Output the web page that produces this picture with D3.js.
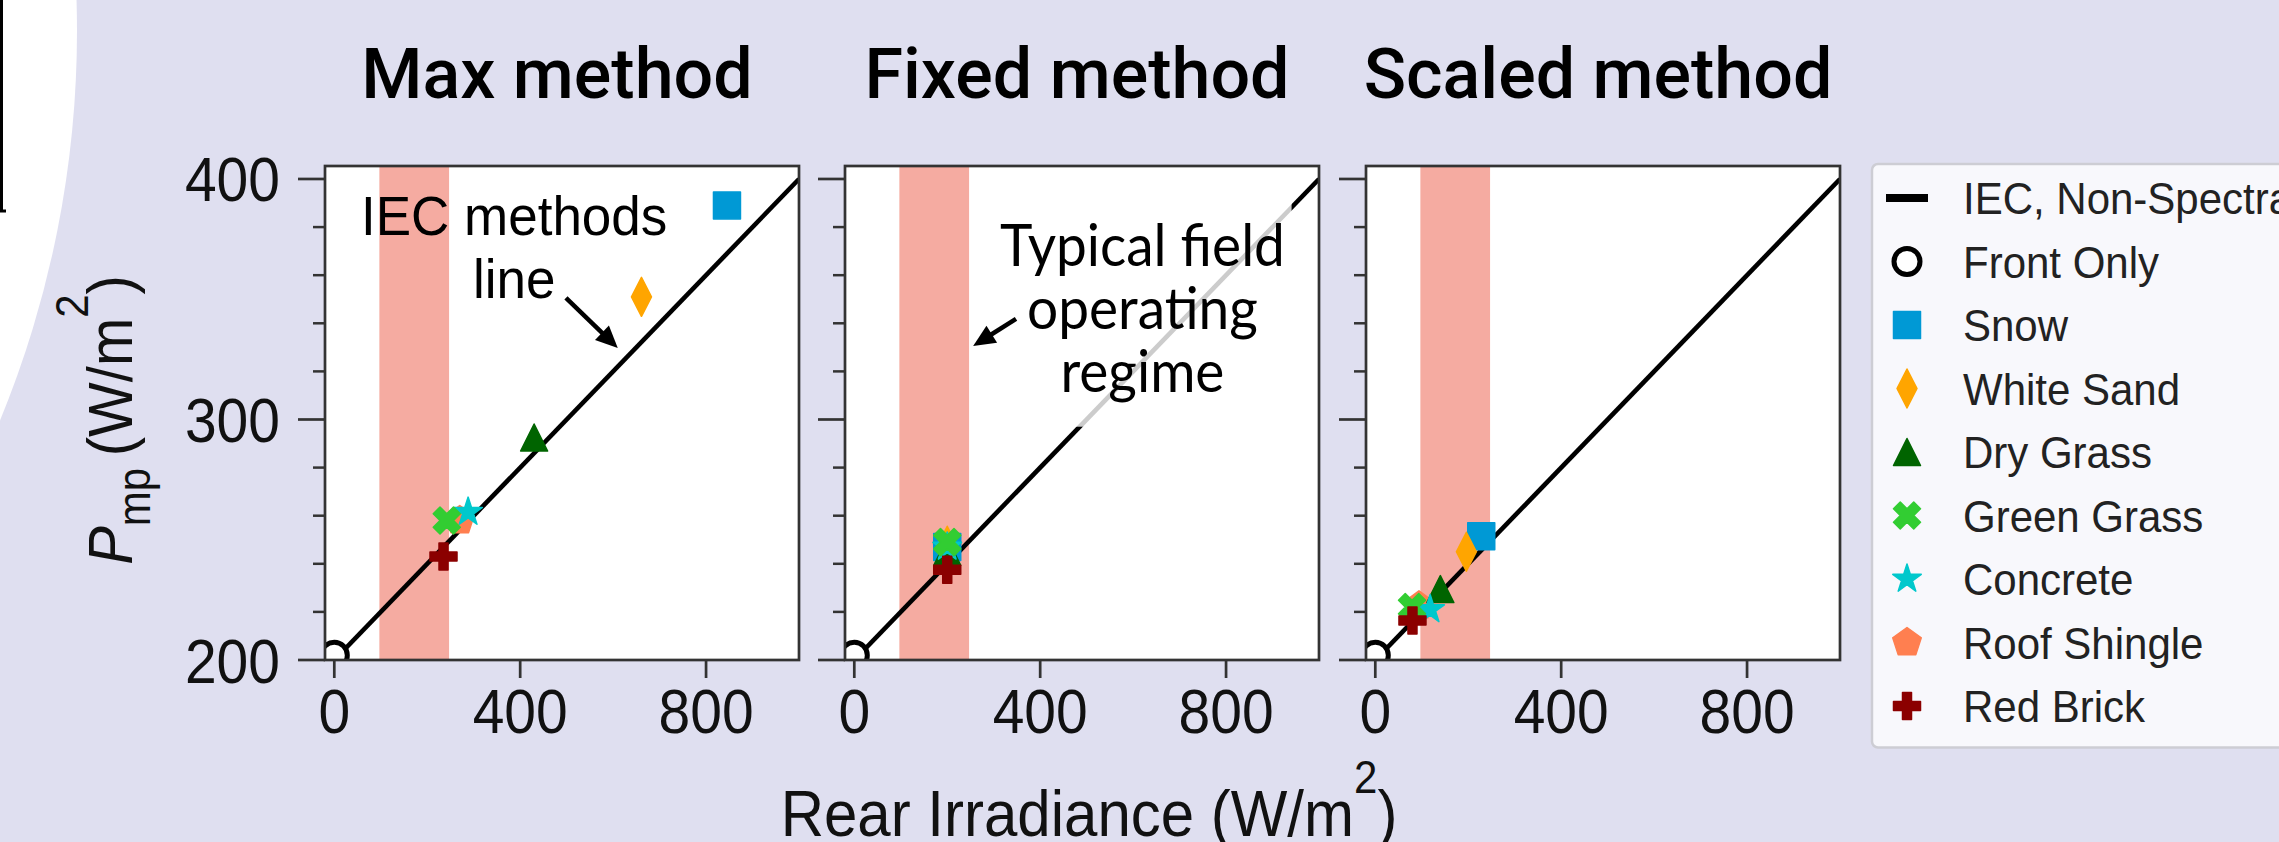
<!DOCTYPE html>
<html><head><meta charset="utf-8">
<script src="https://cdn.jsdelivr.net/npm/d3@7"></script>
<style>html,body{margin:0;padding:0;background:#dfdff0;overflow:hidden}</style>
</head><body><div id="chart"></div>
<script>
// ---------------- data ----------------
const categories = ["Front Only","Snow","White Sand","Dry Grass","Green Grass","Concrete","Roof Shingle","Red Brick"];
const markerTypes = ["circle","square","thinDiamond","triangle","xFilled","star","pentagon","plusFilled"];
const colors = ["#ffffff","#0099d5","#ffa500","#006400","#32cd32","#00c8cc","#ff7f50","#8b0000"];
const panelTitles = ["Max method","Fixed method","Scaled method"];
const maxX    = [0, 845, 661, 430, 242, 288, 270, 235];
const maxY    = [202, 389, 351, 292.5, 258, 261.5, 258, 243];
const fixedX  = [0, 200, 200, 200, 200, 200, 200, 200];
const fixedY  = [202, 247, 247.5, 245, 249, 247, 247, 237.5];
const scaledX = [0, 228, 196, 140, 79, 118, 94, 80];
const scaledY = [202, 251.5, 245, 229.5, 222, 221, 222.5, 216.4];
const iecLineX = [0, 1000];
const iecLineY = [200, 400];
const bandRange = [97, 247];
const xTicks = [0, 400, 800];
const yTicks = [200, 300, 400];
const yMinorTicks = [220, 240, 260, 280, 320, 340, 360, 380];
const xDomain = [-20, 1000];
const yDomain = [200, 405.4];
const legendLabels = ["IEC, Non-Spectral"].concat(categories);
const drawOrder = [0, 6, 1, 2, 3, 5, 4, 7];
const panelData = [[maxX, maxY],[fixedX, fixedY],[scaledX, scaledY]];

// ---------------- layout ----------------
const W = 2279, H = 842;
const panelLeft = [325, 845, 1366];
const panelW = 474, panelTop = 166, panelH = 494;
const FONT = "'Liberation Sans', Arial, Helvetica, sans-serif";
const INK = "#333333";

const svg = d3.select('#chart').append('svg').attr('width', W).attr('height', H)
  .style('display','block');

svg.append('rect').attr('width', W).attr('height', H).attr('fill', '#dfdff0');
// decorative slide background
svg.append('circle').attr('cx', -946).attr('cy', 31).attr('r', 1023).attr('fill', '#ffffff');
svg.append('path').attr('d', 'M1.5,0 L1.5,211 M0,211 L6,211').attr('stroke', '#000').attr('stroke-width', 3).attr('fill','none');

function markerPath(type) {
  const p = d3.path();
  const poly = (pts, s) => { pts.forEach((q,i)=> i ? p.lineTo(q[0]*s, q[1]*s) : p.moveTo(q[0]*s, q[1]*s)); p.closePath(); };
  switch (type) {
    case 'circle': p.arc(0, 0, 13, 0, 2*Math.PI); p.closePath(); break;
    case 'square': p.rect(-13.5, -13.5, 27, 27); break;
    case 'thinDiamond': poly([[0,-19.5],[10,0],[0,19.5],[-10,0]], 1); break;
    case 'triangle': poly([[0,-13.5],[13.5,13.5],[-13.5,13.5]], 1); break;
    case 'xFilled': poly([[-1,-2],[0,-1],[1,-2],[2,-1],[1,0],[2,1],[1,2],[0,1],[-1,2],[-2,1],[-1,0],[-2,-1]], 27/4); break;
    case 'plusFilled': poly([[-1,-3],[-1,-1],[-3,-1],[-3,1],[-1,1],[-1,3],[1,3],[1,1],[3,1],[3,-1],[1,-1],[1,-3]], 27/6); break;
    case 'star': {
      const pts = [];
      for (let i = 0; i < 10; i++) {
        const r = i % 2 === 0 ? 15 : 15*0.381966;
        const a = -Math.PI/2 + i*Math.PI/5;
        pts.push([r*Math.cos(a), r*Math.sin(a)]);
      }
      poly(pts, 1); break;
    }
    case 'pentagon': {
      const pts = [];
      for (let i = 0; i < 5; i++) { const a = -Math.PI/2 + i*2*Math.PI/5; pts.push([15*Math.cos(a), 15*Math.sin(a)]); }
      poly(pts, 1); break;
    }
  }
  return p.toString();
}
function drawMarker(g, i, x, y) {
  const t = markerTypes[i];
  const el = g.append('path').attr('d', markerPath(t)).attr('transform', `translate(${x},${y})`);
  if (t === 'circle') el.attr('fill', '#fff').attr('stroke', '#000').attr('stroke-width', 5);
  else el.attr('fill', colors[i]).attr('stroke', colors[i]).attr('stroke-width', 1.5).attr('stroke-linejoin','round');
}
function addText(parent, x, y, str, o) {
  const g = parent.append('g').attr('transform', `translate(${x},${y}) rotate(${o.rotate||0}) scale(1,${o.sy||1})`);
  const t = g.append('text').attr('x', 0).attr('y', 0)
    .attr('font-family', o.family || FONT).attr('font-size', o.size)
    .attr('font-weight', o.weight || 'normal')
    .attr('text-anchor', o.anchor || 'start').attr('fill', o.fill || '#111');
  if (str != null) t.text(str);
  return t;
}
function arrow(g, x1, y1, x2, y2) {
  const dx = x2-x1, dy = y2-y1, L = Math.hypot(dx, dy), ux = dx/L, uy = dy/L;
  const hl = 22, hw = 10;
  const bx = x2 - ux*hl, by = y2 - uy*hl;
  g.append('line').attr('x1', x1).attr('y1', y1).attr('x2', bx + ux*2).attr('y2', by + uy*2)
    .attr('stroke', '#000').attr('stroke-width', 4.5);
  g.append('path').attr('d', `M${x2},${y2} L${bx - uy*hw},${by + ux*hw} L${bx + uy*hw},${by - ux*hw} Z`).attr('fill', '#000');
}

panelLeft.forEach((left, pi) => {
  const x = d3.scaleLinear().domain(xDomain).range([left, left + panelW]);
  const y = d3.scaleLinear().domain(yDomain).range([panelTop + panelH, panelTop]);
  const g = svg.append('g');
  const clipId = 'clip' + pi;
  g.append('clipPath').attr('id', clipId).append('rect')
    .attr('x', left).attr('y', panelTop).attr('width', panelW).attr('height', panelH);
  g.append('rect').attr('x', left).attr('y', panelTop).attr('width', panelW).attr('height', panelH).attr('fill', '#fff');
  const inner = g.append('g').attr('clip-path', `url(#${clipId})`);
  // operating regime band
  inner.append('rect').attr('x', x(bandRange[0])).attr('y', panelTop)
    .attr('width', x(bandRange[1]) - x(bandRange[0])).attr('height', panelH).attr('fill', '#f5aba1');
  // IEC line
  inner.append('path').datum(iecLineX.map((v,i)=>[v, iecLineY[i]]))
    .attr('d', d3.line().x(d=>x(d[0])).y(d=>y(d[1])))
    .attr('stroke', '#000').attr('stroke-width', 4.6).attr('fill', 'none');

  if (pi === 1) {
    // semi-transparent text box
    inner.append('rect').attr('x', x(282)).attr('y', y(391.5))
      .attr('width', x(941) - x(282)).attr('height', y(297) - y(391.5))
      .attr('fill', '#fff').attr('fill-opacity', 0.8);
  }
  // markers
  const [xs, ys] = panelData[pi];
  drawOrder.forEach(i => drawMarker(inner, i, x(xs[i]), y(ys[i])));

  // annotations
  if (pi === 0) {
    addText(g, x(387), y(376.7), 'IEC methods', {size: 53, anchor: 'middle', fill: '#000', sy: 1.03});
    addText(g, x(387), y(350.5), 'line', {size: 53, anchor: 'middle', fill: '#000', sy: 1.03});
    arrow(g, x(498.5), y(350.6), x(610), y(329.7));
  }
  if (pi === 1) {
    const fam = "Lato, 'Open Sans', sans-serif";
    addText(g, x(620), y(364), 'Typical field', {size: 55, family: fam, anchor: 'middle', fill: '#000', sy: 1.06});
    addText(g, x(620), y(337.8), 'operating', {size: 55, family: fam, anchor: 'middle', fill: '#000', sy: 1.06});
    addText(g, x(620), y(311.4), 'regime', {size: 55, family: fam, anchor: 'middle', fill: '#000', sy: 1.06});
    arrow(g, x(348), y(341.8), x(255.8), y(330.6));
  }

  // frame
  g.append('rect').attr('x', left).attr('y', panelTop).attr('width', panelW).attr('height', panelH)
    .attr('fill', 'none').attr('stroke', INK).attr('stroke-width', 2.7);

  // y ticks
  g.selectAll(null).data(yTicks).enter().append('line')
    .attr('x1', left - 27).attr('x2', left).attr('y1', d=>y(d)).attr('y2', d=>y(d))
    .attr('stroke', INK).attr('stroke-width', 2.7);
  g.selectAll(null).data(yMinorTicks).enter().append('line')
    .attr('x1', left - 12).attr('x2', left).attr('y1', d=>y(d)).attr('y2', d=>y(d))
    .attr('stroke', INK).attr('stroke-width', 2.5);
  // x ticks
  g.selectAll(null).data(xTicks).enter().append('line')
    .attr('x1', d=>x(d)).attr('x2', d=>x(d)).attr('y1', panelTop + panelH).attr('y2', panelTop + panelH + 18)
    .attr('stroke', INK).attr('stroke-width', 2.7);
  xTicks.forEach(v => addText(g, x(v), 733, String(v), {size: 57, anchor: 'middle', sy: 1.1}));
  if (pi === 0) {
    yTicks.forEach(v => addText(g, 280, y(v) + 22.5, String(v), {size: 57, anchor: 'end', sy: 1.1}));
  }
  // title
  addText(g, left + panelW/2 - 5, 98, panelTitles[pi], {size: 70, family: "Roboto, 'Liberation Sans', sans-serif", weight: 500, anchor: 'middle', fill: '#000'});
});

// y axis label
{
  const t = addText(svg, 132, 420, null, {size: 58, anchor: 'middle', rotate: -90, sy: 1.1});
  t.append('tspan').attr('font-style', 'italic').text('P');
  t.append('tspan').attr('font-size', 42).attr('dy', 16).text('mp');
  t.append('tspan').attr('dy', -16).text('\u2009(W/m');
  t.append('tspan').attr('font-size', 42).attr('dy', -40).text('2');
  t.append('tspan').attr('dy', 40).text(')');
}
// x axis label
{
  const t = addText(svg, 1089, 836, null, {size: 60, anchor: 'middle', sy: 1.08});
  t.append('tspan').text('Rear Irradiance (W/m');
  t.append('tspan').attr('font-size', 42).attr('dy', -40).text('2');
  t.append('tspan').attr('dy', 40).text(')');
}

// legend
{
  const lg = svg.append('g');
  lg.append('rect').attr('x', 1872).attr('y', 164).attr('width', 520).attr('height', 583.5).attr('rx', 6)
    .attr('fill', '#f8f8fc').attr('stroke', '#cdcdd4').attr('stroke-width', 2.5);
  const ly = d3.scaleLinear().domain([0, 1]).range([198, 261.5]);
  legendLabels.forEach((lab, k) => {
    const cy = ly(k);
    if (k === 0) {
      lg.append('line').attr('x1', 1886).attr('x2', 1928).attr('y1', cy).attr('y2', cy)
        .attr('stroke', '#000').attr('stroke-width', 8);
    } else {
      drawMarker(lg, k - 1, 1907, cy);
    }
    addText(lg, 1963, cy + 16, lab, {size: 42, sy: 1.05, fill: '#222'});
  });
}
</script></body></html>
